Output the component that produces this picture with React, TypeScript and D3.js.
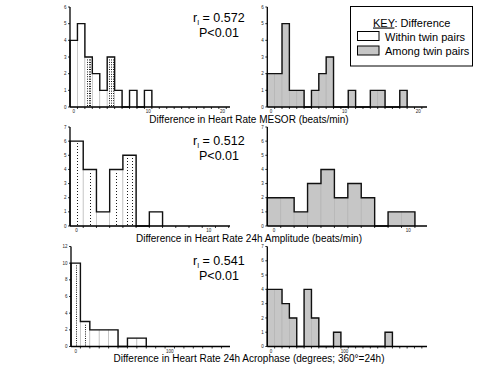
import React, { useEffect, useRef } from 'react'
import * as d3 from 'd3'

// histogram counts, one value per bin (bins centred on 0, w, 2w ...)
const mesorWithin = [4, 5, 3, 2, 1, 3, 1, 0, 1, 0, 1]
const mesorAmong = [2, 2, 5, 1, 1, 0, 1, 2, 3, 0, 0, 1, 0, 0, 1, 1, 0, 0, 1]
const amplitudeWithin = [6, 4, 1, 4, 5, 0, 1]
const amplitudeAmong = [2, 2, 1, 3, 4, 2, 3, 2, 0, 1, 1]
const acrophaseWithin = [10, 3, 2, 2, 2, 0, 1, 1]
const acrophaseAmong = [4, 4, 3, 2, 0, 4, 2, 0, 0, 1, 0, 0, 0, 0, 0, 0, 1]

// printed stipple in the left panels: dotted columns per bin
const mesorDots = [0, 0, 3, 0, 0, 3, 0, 0, 0, 0, 0]
const amplitudeDots = [1, 1, 0, 1, 2, 0, 0]
const acrophaseDots = [1, 1, 0, 0, 0, 0, 0, 0]

const mesorXTicks = [0, 10, 20]
const amplitudeXTicks = [0, 10]
const acrophaseXTicks = [0, 100]
const mesorYTicks = [0, 1, 2, 3, 4, 5, 6]
const amplitudeYTicks = [0, 1, 2, 3, 4, 5, 6, 7]
const acrophaseYTicksLeft = [0, 2, 4, 6, 8, 10, 12]
const acrophaseYTicksRight = [0, 1, 2, 3, 4, 5, 6, 7]

const titles = [
  'Difference in Heart Rate MESOR (beats/min)',
  'Difference in Heart Rate 24h Amplitude (beats/min)',
  'Difference in Heart Rate 24h Acrophase (degrees; 360\u00b0=24h)',
]
const rValues = ['0.572', '0.512', '0.541']
const pLabels = ['P<0.01', 'P<0.01', 'P<0.01']
const legendLabels = ['Within twin pairs', 'Among twin pairs']

const FONT = "'Liberation Sans', Arial, Helvetica, sans-serif"
const GRAY = '#c6c6c6'

const rows = [
  {
    within: mesorWithin, among: mesorAmong, dots: mesorDots, dash: '0.9,1.5', bin: 1,
    leftDomain: [-0.5, 21], rightDomain: [-0.5, 21.2], leftRange: [70, 230],
    xTicks: mesorXTicks, leftYMax: 6, leftYTicks: mesorYTicks, rightYMax: 6, rightYTicks: mesorYTicks,
    top: 7, bottom: 107, rBase: 22, pBase: 36.5, titleBase: 122.5,
  },
  {
    within: amplitudeWithin, among: amplitudeAmong, dots: amplitudeDots, dash: '0.9,2.1', bin: 1,
    leftDomain: [-0.5, 11.6], rightDomain: [-0.5, 11.4], leftRange: [70, 230],
    xTicks: amplitudeXTicks, leftYMax: 7, leftYTicks: amplitudeYTicks, rightYMax: 7, rightYTicks: amplitudeYTicks,
    top: 127, bottom: 226, rBase: 145, pBase: 159.5, titleBase: 241.5,
  },
  {
    within: acrophaseWithin, among: acrophaseAmong, dots: acrophaseDots, dash: '0.9,1.3', bin: 10,
    leftDomain: [-5, 164], rightDomain: [-5, 212], leftRange: [71, 230],
    xTicks: acrophaseXTicks, leftYMax: 12, leftYTicks: acrophaseYTicksLeft, rightYMax: 7, rightYTicks: acrophaseYTicksRight,
    top: 246.5, bottom: 346.5, rBase: 265, pBase: 279.5, titleBase: 361.5,
  },
]

function drawPanel(svg, o) {
  const { counts, bin, domain, range, yMax, yTicks, xTicks, top, bottom, fill, sep, dots, dash } = o
  const x = d3.scaleLinear().domain(domain).range(range)
  const y = d3.scaleLinear().domain([0, yMax]).range([bottom, top])
  const g = svg.append('g')

  counts.forEach((c, i) => {
    if (!c) return
    const x0 = x(i * bin - bin / 2)
    const x1 = x(i * bin + bin / 2)
    g.append('rect')
      .attr('x', x0)
      .attr('width', x1 - x0)
      .attr('y', y(c))
      .attr('height', y(0) - y(c))
      .attr('fill', fill)
      .attr('stroke', sep)
      .attr('stroke-width', 0.7)
  })

  if (dots) {
    dots.forEach((n, i) => {
      for (let j = 0; j < n; j++) {
        const xx = Math.round(x(i * bin - bin / 2 + (bin * (j + 1)) / (n + 1))) + 0.5
        g.append('line')
          .attr('x1', xx).attr('x2', xx)
          .attr('y1', y(0) - 1).attr('y2', y(counts[i]) + 2)
          .attr('stroke', '#000')
          .attr('stroke-width', 1)
          .attr('stroke-dasharray', dash)
      }
    })
  }

  // step outline of the histogram
  const pts: [number, number][] = [[x(-bin / 2), y(0)]]
  counts.forEach((c, i) => {
    pts.push([x(i * bin - bin / 2), y(c)], [x(i * bin + bin / 2), y(c)])
  })
  pts.push([x(counts.length * bin - bin / 2), y(0)])
  g.append('path')
    .attr('d', d3.line()(pts))
    .attr('fill', 'none')
    .attr('stroke', '#111')
    .attr('stroke-width', 1.4)

  // x axis
  g.append('line')
    .attr('x1', range[0]).attr('x2', range[1])
    .attr('y1', y(0)).attr('y2', y(0))
    .attr('stroke', '#000').attr('stroke-width', 1.3)
  for (let e = domain[0] + bin; e < domain[1]; e += bin) {
    g.append('line')
      .attr('x1', x(e)).attr('x2', x(e))
      .attr('y1', y(0)).attr('y2', y(0) + 2)
      .attr('stroke', '#000').attr('stroke-width', 0.8)
  }
  g.selectAll('.xl')
    .data(xTicks)
    .enter()
    .append('text')
    .attr('x', (d) => x(d))
    .attr('y', y(0) + 6)
    .attr('text-anchor', 'middle')
    .attr('font-size', 4.5)
    .attr('fill', '#222')
    .text((d) => d)

  // y axis
  g.append('line')
    .attr('x1', range[0]).attr('x2', range[0])
    .attr('y1', y(0)).attr('y2', y(yMax))
    .attr('stroke', '#000').attr('stroke-width', 1.3)
  yTicks.forEach((t) => {
    g.append('line')
      .attr('x1', range[0] - 2).attr('x2', range[0])
      .attr('y1', y(t)).attr('y2', y(t))
      .attr('stroke', '#000').attr('stroke-width', 0.8)
    g.append('text')
      .attr('x', range[0] - 3.5)
      .attr('y', y(t) + 1.6)
      .attr('text-anchor', 'end')
      .attr('font-size', 4.5)
      .attr('fill', '#222')
      .text(t)
  })
}

export default function App() {
  const ref = useRef(null)

  useEffect(() => {
    const svg = d3.select(ref.current)
    svg.selectAll('*').remove()
    svg.attr('font-family', FONT)

    rows.forEach((r, k) => {
      drawPanel(svg, {
        counts: r.within, bin: r.bin, domain: r.leftDomain, range: r.leftRange,
        yMax: r.leftYMax, yTicks: r.leftYTicks, xTicks: r.xTicks, top: r.top, bottom: r.bottom,
        fill: '#fff', sep: '#bbb', dots: r.dots, dash: r.dash,
      })
      drawPanel(svg, {
        counts: r.among, bin: r.bin, domain: r.rightDomain, range: [267.3, 427],
        yMax: r.rightYMax, yTicks: r.rightYTicks, xTicks: r.xTicks, top: r.top, bottom: r.bottom,
        fill: GRAY, sep: '#b4b4b4', dots: null, dash: null,
      })

      const rt = svg.append('text')
        .attr('x', 193)
        .attr('y', r.rBase)
        .attr('font-size', 12.5)
        .attr('fill', '#000')
      rt.append('tspan').text('r')
      rt.append('tspan').attr('font-size', 7).attr('dy', 3).text('I')
      rt.append('tspan').attr('dy', -3).text(` = ${rValues[k]}`)

      svg.append('text')
        .attr('x', 199)
        .attr('y', r.pBase)
        .attr('font-size', 12.5)
        .attr('fill', '#000')
        .text(pLabels[k])

      svg.append('text')
        .attr('x', 249)
        .attr('y', r.titleBase)
        .attr('text-anchor', 'middle')
        .attr('font-size', 10)
        .attr('fill', '#000')
        .text(titles[k])
    })

    // legend
    const lg = svg.append('g')
    lg.append('rect')
      .attr('x', 350.5).attr('y', 6.5)
      .attr('width', 122).attr('height', 59.5)
      .attr('fill', '#fff').attr('stroke', '#000').attr('stroke-width', 1)
    const key = lg.append('text')
      .attr('x', 373).attr('y', 26.5)
      .attr('font-size', 11).attr('fill', '#000')
    key.append('tspan').attr('text-decoration', 'underline').text('KEY')
    key.append('tspan').text(': Difference')
    const swatchFill = ['#fff', GRAY]
    legendLabels.forEach((lab, i) => {
      lg.append('rect')
        .attr('x', 357.5).attr('y', 31.5 + i * 14.5)
        .attr('width', 21.5).attr('height', 9)
        .attr('fill', swatchFill[i]).attr('stroke', '#000').attr('stroke-width', 1)
      lg.append('text')
        .attr('x', 385).attr('y', 40.5 + i * 14.5)
        .attr('font-size', 11).attr('fill', '#000')
        .text(lab)
    })
  }, [])

  return (
    <svg
      ref={ref}
      width={496}
      height={370}
      style={{ position: 'absolute', left: 0, top: 0, background: '#fff' }}
    />
  )
}
